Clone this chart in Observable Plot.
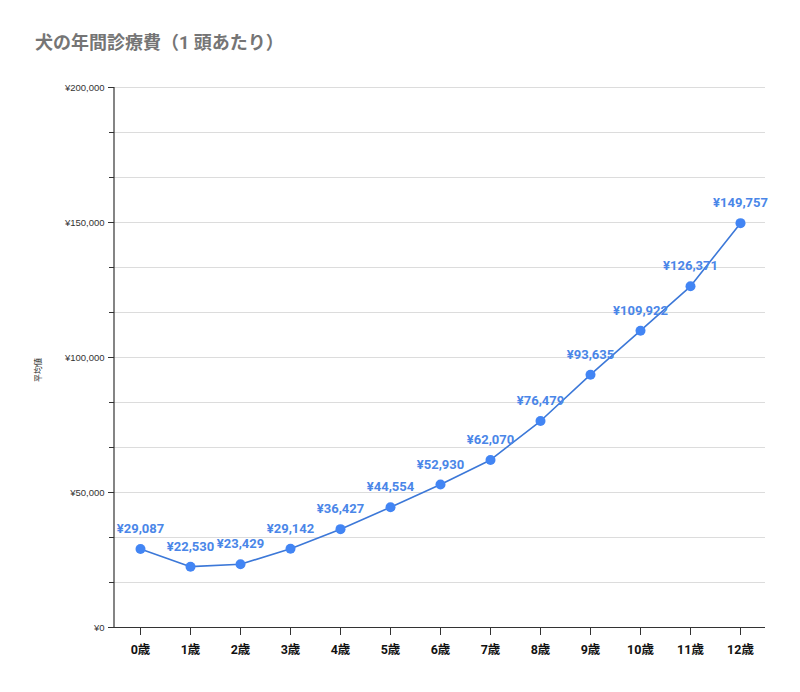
<!DOCTYPE html>
<html><head><meta charset="utf-8">
<script src="https://cdn.jsdelivr.net/npm/d3@7"></script>
<script src="https://cdn.jsdelivr.net/npm/@observablehq/plot@0.6"></script>
<style>
body{margin:0;background:#fff;font-family:Roboto,"Noto Sans CJK JP",sans-serif;}
#title{height:62px;box-sizing:border-box;padding:33px 0 0 35px;font-size:18px;font-weight:bold;color:#757575;line-height:20px;}
</style></head>
<body>
<div id="title">犬の年間診療費（1 頭あたり）</div>
<div id="chart"></div>
<script>
const ages = ["0歳","1歳","2歳","3歳","4歳","5歳","6歳","7歳","8歳","9歳","10歳","11歳","12歳"];
const costs = [29087,22530,23429,29142,36427,44554,52930,62070,76479,93635,109922,126371,149757];
const yLabelTicks = [0,50000,100000,150000,200000];
const yMinorTicks = d3.range(0,13).map(i => i*50000/3);
const yTitle = "平均値";
const data = ages.map((a,i)=>({age:a, cost:costs[i]}));
const yen = v => "¥" + d3.format(",")(v);
const plot = Plot.plot({
  width:800, height:630,
  marginTop:25, marginBottom:65, marginLeft:114, marginRight:35,
  style:{fontFamily:'Roboto,"Noto Sans CJK JP",sans-serif', background:"#fff"},
  x:{type:"point", domain:ages, padding:0.5, label:null},
  y:{domain:[0,200000], label:null},
  marks:[
    Plot.ruleY(yMinorTicks.slice(1), {stroke:"#dcdcdc", strokeWidth:1}),
    Plot.axisY(yMinorTicks, {tickSize:5, tickFormat:null, text:null, stroke:"#333", label:null}),
    Plot.axisY(yLabelTicks, {tickSize:6, tickPadding:4, tickFormat:yen, fontSize:9.5, fontFamily:'Arial,"Liberation Sans",sans-serif', fill:"#333", stroke:"#333", label:null}),
    Plot.axisX({tickSize:8, tickPadding:10, fontSize:12.5, fontWeight:"bold", fill:"#111", stroke:"#333", label:null}),
    Plot.ruleY([0], {stroke:"#333", strokeWidth:1.2}),
    Plot.line(data, {x:"age", y:"cost", stroke:"#3c78d8", strokeWidth:1.6}),
    Plot.dot(data, {x:"age", y:"cost", r:5, fill:"#4285f4", stroke:"none"}),
    Plot.text(data, {x:"age", y:"cost", text:d=>yen(d.cost), dy:-20, fill:"#4a86e8", fontSize:13, fontWeight:"bold"})
  ]
});
document.getElementById("chart").appendChild(plot);
const svg = d3.select(plot);
svg.append("line").attr("x1",114).attr("x2",114).attr("y1",25).attr("y2",565).attr("stroke","#333").attr("stroke-width",1.2);
svg.append("text").attr("transform","translate(41,308) rotate(-90)").attr("text-anchor","middle")
  .attr("font-size",8).attr("fill","#222").text(yTitle);
</script>
</body></html>
